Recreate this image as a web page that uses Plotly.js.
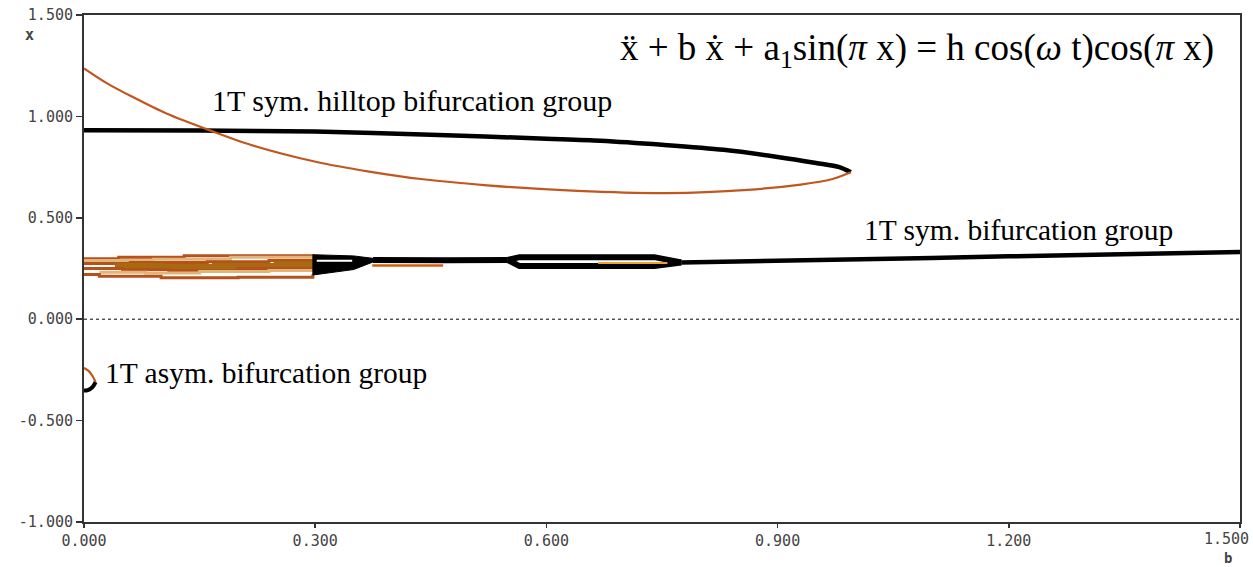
<!DOCTYPE html>
<html>
<head>
<meta charset="utf-8">
<script src="https://cdn.plot.ly/plotly-3.0.1.min.js"></script>
<style>html,body{margin:0;padding:0;background:#fff;}#chart{width:1253px;height:567px;}</style>
</head>
<body>
<div id="chart"></div>
<script>
// ---- data (b = damping, x = response) ----
const xTickVals = [0, 0.3, 0.6, 0.9, 1.2, 1.5];
const xTickText = ["0.000", "0.300", "0.600", "0.900", "1.200", ""];
const xLastTickText = "1.500";   // drawn right-aligned at the last tick so it stays inside the page
const yTickVals = [-1, -0.5, 0, 0.5, 1, 1.5];
const yTickText = ["-1.000", "-0.500", "0.000", "0.500", "1.000", "1.500"];

// hilltop group: upper (black) and lower (orange) branches
const hillBlackB = [0, 0.15, 0.3, 0.45, 0.6, 0.67, 0.75, 0.83, 0.9, 0.95, 0.98, 0.995];
const hillBlackY = [0.932, 0.930, 0.925, 0.910, 0.890, 0.880, 0.860, 0.835, 0.800, 0.770, 0.750, 0.725];
const hillOrangeB = [0, 0.03, 0.064, 0.107, 0.164, 0.216, 0.302, 0.37, 0.44, 0.523, 0.64, 0.757, 0.861, 0.93, 0.97, 0.995];
const hillOrangeY = [1.237, 1.163, 1.094, 1.014, 0.930, 0.860, 0.775, 0.728, 0.690, 0.660, 0.633, 0.622, 0.638, 0.664, 0.690, 0.725];

// symmetric group: chaotic band for small b (stepped lines)
const band1B = [0, 0.045, 0.13, 0.19, 0.297], band1Y = [0.298, 0.305, 0.313, 0.313, 0.305];
const band2B = [0, 0.03, 0.09, 0.19, 0.297], band2Y = [0.290, 0.290, 0.295, 0.305, 0.298];
const band3B = [0, 0.06, 0.16, 0.24, 0.297], band3Y = [0.275, 0.280, 0.283, 0.290, 0.285];
const band4B = [0.04, 0.10, 0.17, 0.25, 0.297], band4Y = [0.262, 0.258, 0.262, 0.270, 0.270];
const band5B = [0, 0.05, 0.11, 0.20, 0.297], band5Y = [0.250, 0.245, 0.240, 0.250, 0.258];
const band6B = [0.02, 0.08, 0.15, 0.24, 0.297], band6Y = [0.232, 0.228, 0.235, 0.240, 0.245];
const band7B = [0, 0.02, 0.10, 0.20, 0.297], band7Y = [0.220, 0.212, 0.205, 0.207, 0.222];

// symmetric group: black wedge after b = 0.3
const wedgeB = [0.297, 0.35, 0.375, 0.375, 0.35, 0.297, 0.297];
const wedgeY = [0.318, 0.312, 0.300, 0.282, 0.245, 0.218, 0.318];
const wedgeGapB = [0.302, 0.348];
const wedgeGapY = [0.288, 0.288];

// symmetric group: main branch
const symCoreB = [0.375, 0.41, 0.47, 0.55];
const symCoreY = [0.292, 0.290, 0.291, 0.292];
const symOrangeB = [0.374, 0.466];
const symOrangeY = [0.265, 0.265];
const loopTopB = [0.55, 0.565, 0.74, 0.775];
const loopTopY = [0.292, 0.306, 0.306, 0.280];
const loopBotB = [0.55, 0.565, 0.74, 0.775];
const loopBotY = [0.292, 0.262, 0.262, 0.280];
const loopInnerB = [0.667, 0.757];
const loopInnerY = [0.277, 0.277];
const symTailB = [0.775, 0.85, 1.0, 1.1, 1.2, 1.3, 1.4, 1.5];
const symTailY = [0.280, 0.284, 0.295, 0.302, 0.310, 0.317, 0.324, 0.331];

// asymmetric group near b = 0
const asymOrangeB = [0, 0.006, 0.011, 0.015];
const asymOrangeY = [-0.240, -0.255, -0.280, -0.310];
const asymBlackB = [0.015, 0.011, 0.005, 0];
const asymBlackY = [-0.310, -0.335, -0.350, -0.352];

// zero reference
const zeroB = [0, 1.5];
const zeroY = [0, 0];

const BROWN = '#b8501c', TAN = '#dfb57a', GOLD = '#a86a10', ORANGE = '#c2561e';

function line(x, y, color, width, extra) {
  return Object.assign({x: x, y: y, mode: 'lines', type: 'scatter', hoverinfo: 'skip',
    line: {color: color, width: width}}, extra || {});
}

const traces = [
  line(zeroB, zeroY, '#000', 1, {line: {color: '#000', width: 1, dash: '3px,3px'}}),
  line(hillBlackB, hillBlackY, '#000', 4.5, {line: {color: '#000', width: 4.5, shape: 'spline', smoothing: 0.8}}),
  line(hillOrangeB, hillOrangeY, ORANGE, 2.2, {line: {color: ORANGE, width: 2.2, shape: 'spline', smoothing: 0.8}}),
  line(band1B, band1Y, BROWN, 3, {line: {color: BROWN, width: 3, shape: 'hv'}}),
  line(band2B, band2Y, TAN, 3, {line: {color: TAN, width: 3, shape: 'hv'}}),
  line(band3B, band3Y, BROWN, 3, {line: {color: BROWN, width: 3, shape: 'hv'}}),
  line(band4B, band4Y, GOLD, 6, {line: {color: GOLD, width: 6, shape: 'hv'}}),
  line(band5B, band5Y, BROWN, 3, {line: {color: BROWN, width: 3, shape: 'hv'}}),
  line(band6B, band6Y, TAN, 3, {line: {color: TAN, width: 3, shape: 'hv'}}),
  line(band7B, band7Y, BROWN, 3, {line: {color: BROWN, width: 3, shape: 'hv'}}),
  line(wedgeB, wedgeY, '#000', 1, {fill: 'toself', fillcolor: '#000'}),
  line(wedgeGapB, wedgeGapY, '#fff', 2),
  line(symOrangeB, symOrangeY, '#d06010', 2.5),
  line(symCoreB, symCoreY, '#000', 6),
  line(loopTopB, loopTopY, '#000', 6),
  line(loopBotB, loopBotY, '#000', 6),
  line(loopInnerB, loopInnerY, '#f0a030', 2),
  line(symTailB, symTailY, '#000', 4.5),
  line(asymOrangeB, asymOrangeY, ORANGE, 2.2, {line: {color: ORANGE, width: 2.2, shape: 'spline'}}),
  line(asymBlackB, asymBlackY, '#000', 4, {line: {color: '#000', width: 4, shape: 'spline'}})
];

const tickFont = {family: 'DejaVu Sans Mono, monospace', size: 15, color: '#444'};
const serif = 'Liberation Serif, Times New Roman, serif';

const layout = {
  width: 1253, height: 567,
  margin: {l: 84, r: 13, t: 15, b: 45},
  paper_bgcolor: '#fff', plot_bgcolor: '#fff',
  showlegend: false,
  xaxis: {
    range: [0, 1.5], tickvals: xTickVals, ticktext: xTickText,
    ticks: 'outside', ticklen: 4, tickcolor: '#333', tickwidth: 1.5,
    showline: true, linecolor: '#333', linewidth: 2, mirror: true,
    showgrid: false, zeroline: false, tickfont: tickFont, fixedrange: true,
    ticklabeloverflow: 'allow', automargin: false
  },
  yaxis: {
    range: [-1, 1.5], tickvals: yTickVals, ticktext: yTickText,
    ticks: 'outside', ticklen: 6, tickcolor: '#333', tickwidth: 1.5,
    showline: true, linecolor: '#333', linewidth: 2, mirror: true,
    showgrid: false, zeroline: false, tickfont: tickFont, fixedrange: true,
    ticklabeloverflow: 'allow', automargin: false
  },
  annotations: [
    {xref: 'x', yref: 'paper', x: xTickVals[xTickVals.length - 1], y: 0, xanchor: 'right', yanchor: 'top',
     xshift: 11, yshift: -6, text: xLastTickText, showarrow: false, font: tickFont},
    {xref: 'paper', yref: 'paper', x: -0.047, y: 0.96, xanchor: 'center', yanchor: 'middle',
     text: '<b>x</b>', showarrow: false, font: tickFont},
    {xref: 'paper', yref: 'paper', x: 0.99, y: -0.071, xanchor: 'center', yanchor: 'middle',
     text: '<b>b</b>', showarrow: false, font: {family: 'DejaVu Sans Mono, monospace', size: 14, color: '#444'}},
    {xref: 'x', yref: 'y', x: 0.164, y: 1.08, xanchor: 'left', yanchor: 'middle', showarrow: false,
     text: '1T sym. hilltop bifurcation group', font: {family: serif, size: 30, color: '#000'}},
    {xref: 'x', yref: 'y', x: 1.01, y: 0.44, xanchor: 'left', yanchor: 'middle', showarrow: false,
     text: '1T sym. bifurcation group', font: {family: serif, size: 29.5, color: '#000'}},
    {xref: 'x', yref: 'y', x: 0.025, y: -0.265, xanchor: 'left', yanchor: 'middle', showarrow: false,
     text: '1T asym. bifurcation group', font: {family: serif, size: 29.5, color: '#000'}},
    {xref: 'x', yref: 'y', x: 1.469, y: 1.327, xanchor: 'right', yanchor: 'middle', showarrow: false,
     text: 'ẍ + b ẋ + a<sub>1</sub>sin(<i>π</i> x) = h cos(<i>ω</i> t)cos(<i>π</i> x)',
     font: {family: serif, size: 37, color: '#000'}}
  ]
};

Plotly.newPlot('chart', traces, layout, {staticPlot: true, displayModeBar: false});
</script>
</body>
</html>
